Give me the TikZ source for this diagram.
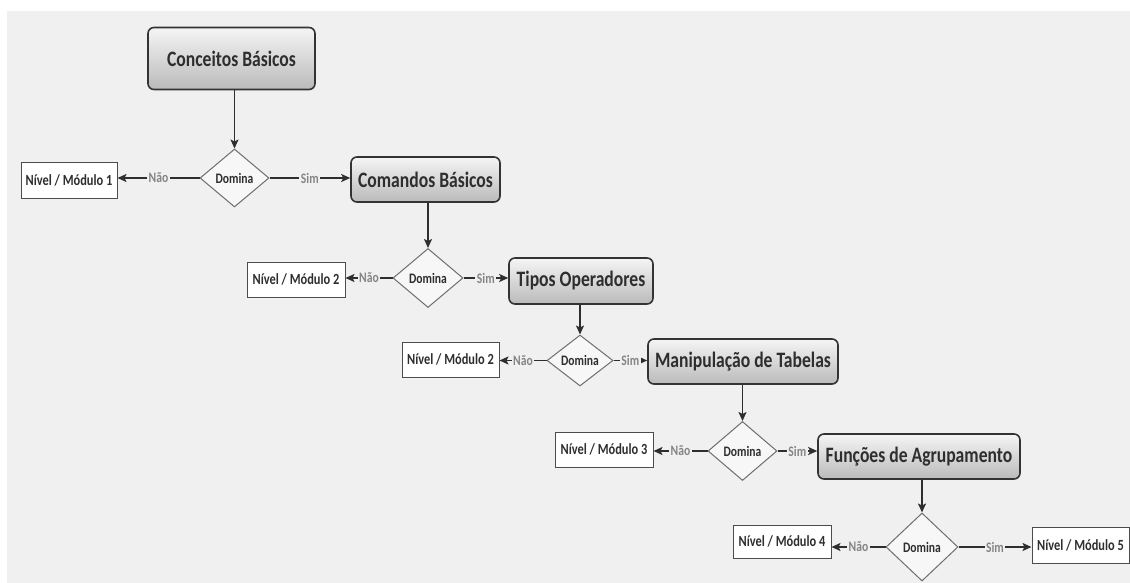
\documentclass[tikz,border=0pt]{standalone}
\usepackage{fontspec}
\setmainfont{Carlito}[FakeStretch=0.8]
\usetikzlibrary{arrows.meta,shapes.geometric}
\definecolor{bg}{HTML}{F0F0F0}
\definecolor{ink}{HTML}{2E2E2E}
\definecolor{edge}{HTML}{333333}
\definecolor{lbltxt}{HTML}{858585}
\definecolor{dline}{HTML}{6E6E6E}
\tikzset{
  topic/.style={draw=edge, line width=1.6pt, rounded corners=6pt,
    top color=white!96!black, bottom color=black!27, text=ink,
    font=\bfseries\fontsize{22}{24}\selectfont, inner sep=0pt},
  decide/.style={diamond, draw=dline, line width=1pt, fill=white!97!black,
    text=ink, font=\bfseries\fontsize{14.5}{16}\selectfont, inner sep=0pt},
  level/.style={draw=black!70, line width=1pt, fill=white, text=ink,
    font=\bfseries\fontsize{15.5}{17}\selectfont, inner sep=0pt},
  flow/.style={draw=ink, line width=1.9pt, -{Stealth[length=9pt,width=8pt,inset=2pt]}},
  lbl/.style={fill=bg, text=lbltxt, font=\bfseries\fontsize{14.5}{16}\selectfont,
    inner sep=1.5pt},
}
\begin{document}
\begin{tikzpicture}[x=1pt,y=-1pt]
\useasboundingbox (0,0) rectangle (1130,583);
\fill[white] (0,0) rectangle (1130,583);
\fill[bg] (7,11) rectangle (1130,583);

% main topics
\node[topic, minimum width=167pt, minimum height=62pt] (c1) at (231.5,58.5) {Conceitos Básicos};
\node[topic, minimum width=149pt, minimum height=45pt] (c2) at (425.5,179.5) {Comandos Básicos};
\node[topic, minimum width=144pt, minimum height=46pt] (c3) at (581,281) {Tipos Operadores};
\node[topic, minimum width=190pt, minimum height=45pt] (c4) at (743,361.5) {Manipulação de Tabelas};
\node[topic, minimum width=202pt, minimum height=45pt] (c5) at (919,456.5) {Funções de Agrupamento};

% decisions
\node[decide, minimum width=69pt, minimum height=58pt] (d1) at (234.5,178) {Domina};
\node[decide, minimum width=70pt, minimum height=59pt] (d2) at (428,278) {Domina};
\node[decide, minimum width=66pt, minimum height=51pt] (d3) at (580,360.5) {Domina};
\node[decide, minimum width=69pt, minimum height=59pt] (d4) at (742.5,451) {Domina};
\node[decide, minimum width=72pt, minimum height=68pt] (d5) at (922,547) {Domina};

% levels
\node[level, minimum width=96pt, minimum height=35pt] (n1) at (69,180.5) {Nível / Módulo 1};
\node[level, minimum width=98pt, minimum height=35pt] (n2) at (296,279.5) {Nível / Módulo 2};
\node[level, minimum width=97pt, minimum height=35pt] (n3) at (450.5,359.5) {Nível / Módulo 2};
\node[level, minimum width=98pt, minimum height=35pt] (n4) at (604,449.5) {Nível / Módulo 3};
\node[level, minimum width=98pt, minimum height=33pt] (n5) at (782,541.5) {Nível / Módulo 4};
\node[level, minimum width=97pt, minimum height=36pt] (n6) at (1080.5,545) {Nível / Módulo 5};

% topic -> decision
\draw[flow] (d1.north |- c1.south) -- (d1.north);
\draw[flow] (d2.north |- c2.south) -- (d2.north);
\draw[flow] (d3.north |- c3.south) -- (d3.north);
\draw[flow] (d4.north |- c4.south) -- (d4.north);
\draw[flow] (d5.north |- c5.south) -- (d5.north);

% "Não" branches
\draw[flow] (d1.west) -- node[lbl]{Não} (d1.west -| n1.east);
\draw[flow] (d2.west) -- node[lbl]{Não} (d2.west -| n2.east);
\draw[flow] (d3.west) -- node[lbl]{Não} (d3.west -| n3.east);
\draw[flow] (d4.west) -- node[lbl]{Não} (d4.west -| n4.east);
\draw[flow] (d5.west) -- node[lbl]{Não} (d5.west -| n5.east);

% "Sim" branches
\draw[flow] (d1.east) -- node[lbl]{Sim} (d1.east -| c2.west);
\draw[flow] (d2.east) -- node[lbl]{Sim} (d2.east -| c3.west);
\draw[flow] (d3.east) -- node[lbl]{Sim} (d3.east -| c4.west);
\draw[flow] (d4.east) -- node[lbl]{Sim} (d4.east -| c5.west);
\draw[flow] (d5.east) -- node[lbl]{Sim} (d5.east -| n6.west);
\end{tikzpicture}
\end{document}
